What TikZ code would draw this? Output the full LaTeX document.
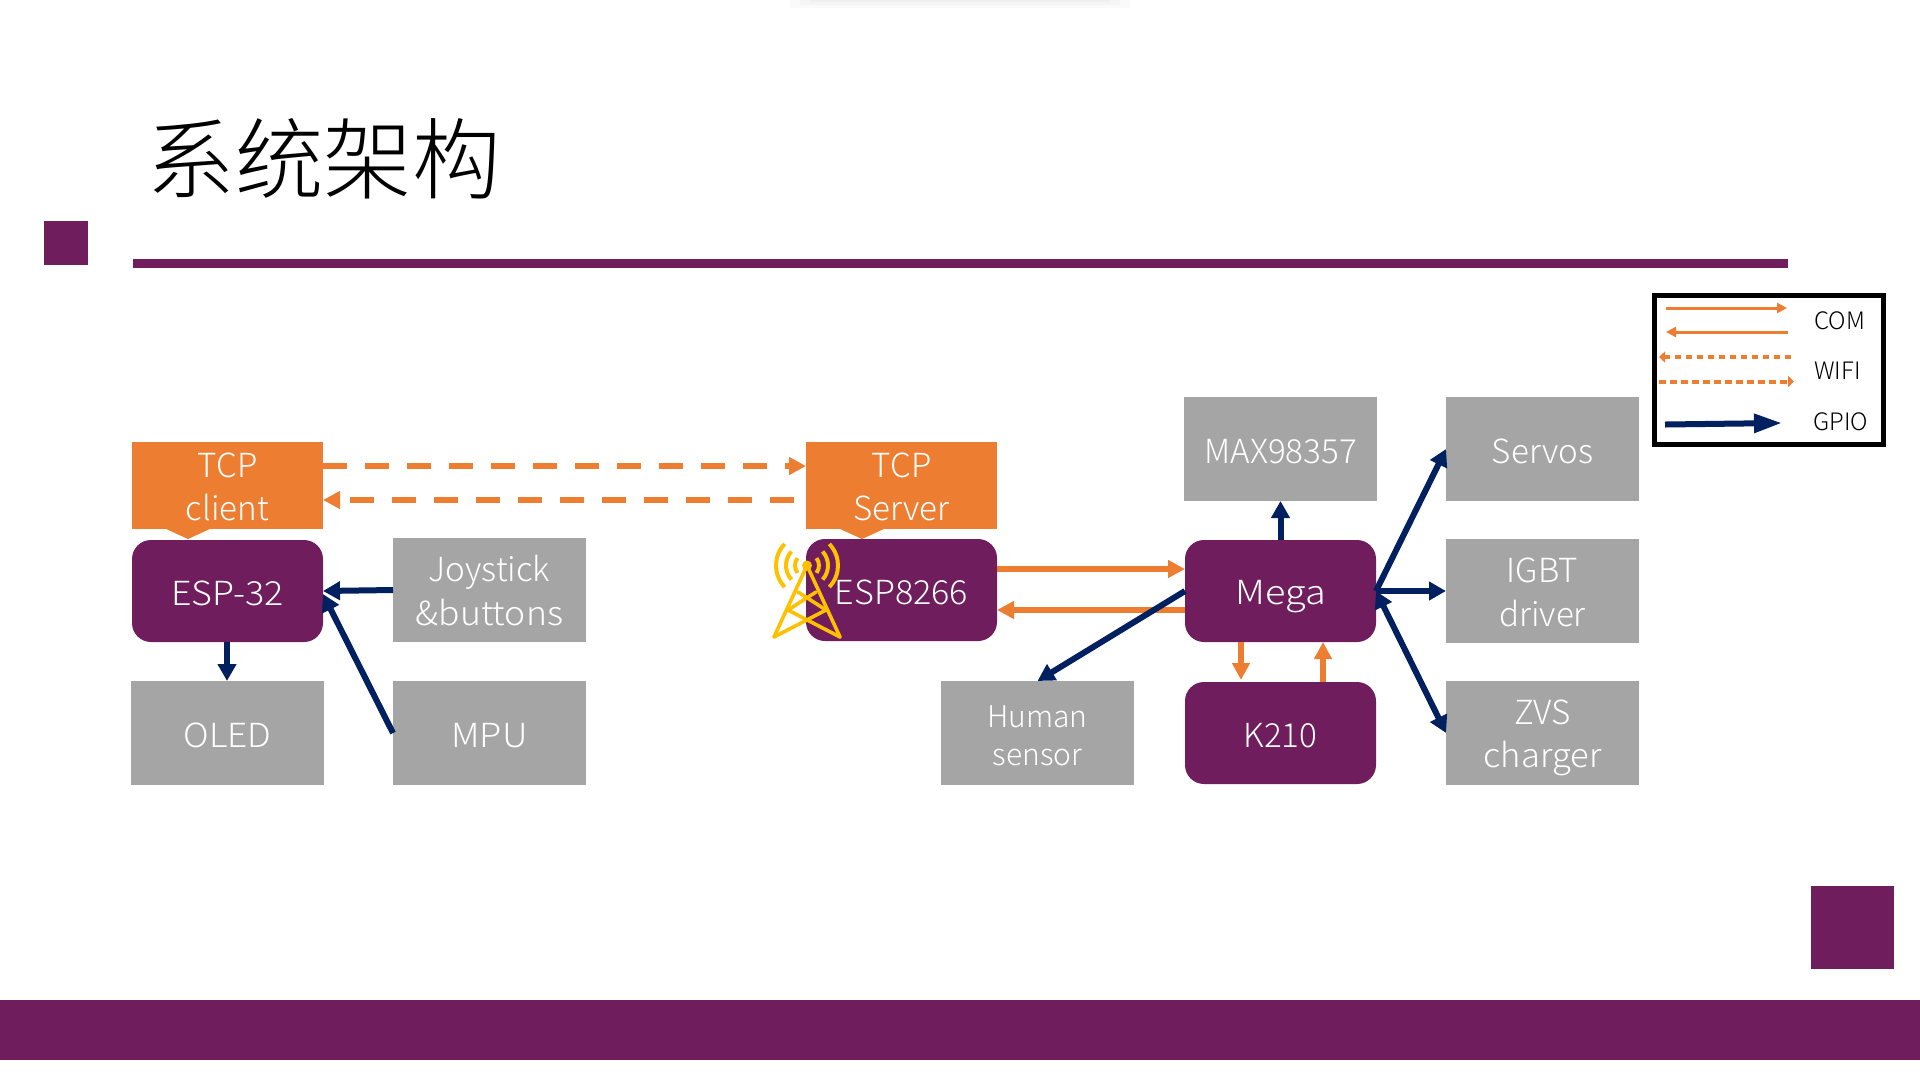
\documentclass[tikz,border=0pt]{standalone}
\usepackage{fontspec}
\usepackage{graphicx}
\setmainfont{Noto Sans CJK SC}[UprightFont={* Light}]
\newfontfamily\cjk{Noto Sans CJK SC}[UprightFont={* Light}]
\usetikzlibrary{arrows.meta,calc}
\definecolor{plum}{HTML}{6F1D5C}
\definecolor{boxgray}{HTML}{A5A5A5}
\definecolor{tcporange}{HTML}{ED7D31}
\definecolor{gpionavy}{HTML}{002060}
\definecolor{towergold}{HTML}{FFC000}
% fixed struts, so that text sits the same way in every box
\newcommand{\onel}[1]{\rule[-8pt]{0pt}{44pt}#1}
\newcommand{\twol}[2]{\rule{0pt}{34.5pt}#1\\#2\rule[-8pt]{0pt}{8pt}}
\newcommand{\widen}[2]{\scalebox{#1}[1]{#2}}
\tikzset{
  x=1pt,y=-1pt,
  boxbase/.style={minimum width=#1,inner sep=0pt,outer sep=0pt,text=white,align=center,font=\fontsize{33.2}{43.5}\selectfont},
  graybox/.style={boxbase=193pt,fill=boxgray,minimum height=104pt},
  mcubox/.style={boxbase=191pt,fill=plum,minimum height=102pt,rounded corners=19pt},
  tcpbox/.style={boxbase=191pt,fill=tcporange,minimum height=87pt},
  comline/.style={draw=tcporange,line width=6pt,-{Triangle[length=17pt,width=17pt]}},
  wifiline/.style={comline,dash pattern=on 24pt off 18pt},
  gpioline/.style={draw=gpionavy,line width=6pt,-{Triangle[length=17pt,width=18pt]}},
  legcom/.style={draw=tcporange,line width=3pt,-{Triangle[length=10pt,width=10pt]}},
  legwifi/.style={draw=tcporange,line width=4pt,dash pattern=on 6.5pt off 4.5pt,-{Triangle[length=6pt,width=11pt]}},
  legtext/.style={anchor=west,inner sep=0pt,font=\fontsize{24}{24}\selectfont},
  towerline/.style={draw=towergold,line width=3.6pt,line cap=round},
}
\begin{document}
\begin{tikzpicture}
\useasboundingbox (0,0) rectangle (1920,1080);
\fill[white] (0,0) rectangle (1920,1080);
% faint shadow at the top edge
\fill[black,opacity=.02] (790,0) rectangle (1130,8);
\fill[black,opacity=.02] (800,0) rectangle (1120,5);
\fill[black,opacity=.02] (810,0) rectangle (1110,2);
% slide frame
\fill[plum] (44,221) rectangle (88,265);
\fill[plum] (133,259) rectangle (1788,268);
\fill[plum] (1811,886) rectangle (1894,969);
\fill[plum] (0,1000) rectangle (1920,1060);
\node[anchor=west,inner sep=0pt,font=\cjk\fontsize{88.5}{88.5}\selectfont] (title) at (146.5,159) {系统架构};
% call-out tips
\fill[tcporange] (164,528) -- (188,539) -- (212,528) -- cycle;
\fill[tcporange] (838,528) -- (862,539) -- (886,528) -- cycle;
% boxes
\node[tcpbox] (client) at (227.5,485.5) {\twol{TCP}{client}};
\node[tcpbox] (server) at (901.5,485.5) {\twol{TCP}{Server}};
\node[mcubox] (esp32) at (227.5,591) {\onel{\widen{1.08}{ESP-32}}};
\node[mcubox] (esp8266) at (901.5,590) {};
\node[mcubox] (mega) at (1280.5,591) {\onel{\widen{1.14}{Mega}}};
\node[mcubox] (k210) at (1280.5,733) {\onel{K210}};
\node[graybox] (oled) at (227.5,733) {\onel{\widen{1.06}{OLED}}};
\node[graybox] (mpu) at (489.5,733) {\onel{\widen{1.09}{MPU}}};
\node[graybox] (joy) at (489.5,590) {\twol{Joystick}{\widen{1.07}{\&buttons}}};
\node[graybox,font=\fontsize{30}{38}\selectfont] (human) at (1037.5,733) {\rule{0pt}{34pt}Human\\sensor\rule[-8pt]{0pt}{8pt}};
\node[graybox] (max) at (1280.5,449) {\onel{MAX98357}};
\node[graybox] (servos) at (1542.5,449) {\onel{Servos}};
\node[graybox] (igbt) at (1542.5,591) {\twol{IGBT}{driver}};
\node[graybox] (zvs) at (1542.5,733) {\twol{ZVS}{\widen{1.04}{charger}}};
% connectors
\draw[wifiline] ([yshift=19.5pt]client.east) -- ([yshift=19.5pt]server.west);
\draw[wifiline] ([yshift=-14.5pt,xshift=-12pt]server.west) -- ([yshift=-14.5pt]client.east);
\draw[comline] ([yshift=21pt]esp8266.east) -- ([yshift=21pt]esp8266.east -| mega.west);
\draw[comline] ([yshift=-19pt]mega.west) -- ([yshift=-19pt]mega.west -| esp8266.east);
\draw[gpioline] (joy.west) -- (esp32.east);
\draw[gpioline] (mpu.west) -- ([yshift=-3pt]esp32.east);
\draw[gpioline] ([xshift=-0.5pt]esp32.south) -- ([xshift=-0.5pt]oled.north);
\draw[gpioline] (mega.north) -- (max.south);
\draw[gpioline] (mega.west) -- (human.north);
\draw[gpioline] (mega.east) -- (servos.west);
\draw[gpioline] (mega.east) -- (igbt.west);
\draw[gpioline,{Triangle[length=17pt,width=18pt]}-{Triangle[length=17pt,width=18pt]}] (mega.east) -- (zvs.west);
\draw[comline] ([xshift=-39.5pt]mega.south) -- ([xshift=-39.5pt,yshift=2pt]k210.north);
\draw[comline] ([xshift=42.5pt]k210.north) -- ([xshift=42.5pt]mega.south);
% tower icon
\coordinate (dot) at (807,565.5);
\coordinate (bl) at (774,637);
\coordinate (br) at (840,637);
\draw[towerline,line join=round] (bl) -- (dot) -- (br);
\draw[towerline] (bl) -- (826,610) -- (798,592);
\draw[towerline] (br) -- (788,610) -- (816,592);
\fill[towergold] (dot) circle (5);
\begin{scope}[shift={(dot)},x=1pt,y=1pt]
\foreach \r/\a in {12/38,21/42,31/44}{
  \draw[towerline,line cap=butt,line width=4pt] (-\a:\r) arc[start angle=-\a,end angle=\a,radius=\r];
  \draw[towerline,line cap=butt,line width=4pt] (180-\a:\r) arc[start angle=180-\a,end angle=180+\a,radius=\r];
}
\end{scope}
\node[text=white,inner sep=0pt,font=\fontsize{33.2}{44}\selectfont] (esplabel) at (901.5,592) {\widen{1.03}{ESP8266}};
% legend
\node[draw=black,line width=5pt,minimum width=229pt,minimum height=149pt,inner sep=0pt,outer sep=0pt] (legend) at (1769,370) {};
\coordinate (c1a) at (1666,308); \coordinate (c1b) at (1787,308);
\coordinate (c2a) at (1788,332); \coordinate (c2b) at (1666,332);
\coordinate (w1a) at (1791,357); \coordinate (w1b) at (1659,357);
\coordinate (w2a) at (1659,381.5); \coordinate (w2b) at (1794,381.5);
\coordinate (g1a) at (1665,424.5); \coordinate (g1b) at (1782,423);
\draw[legcom] (c1a) -- (c1b);
\draw[legcom] (c2a) -- (c2b);
\draw[legwifi] (w1a) -- (w1b);
\draw[legwifi] (w2a) -- (w2b);
\draw[draw=gpionavy,line width=6pt,-{Triangle[length=28pt,width=18pt]}] (g1a) -- (g1b);
\node[legtext] (lcom) at (1814,321) {COM};
\node[legtext] (lwifi) at (1814,371) {WIFI};
\node[legtext] (lgpio) at (1813,422) {GPIO};
\end{tikzpicture}
\end{document}
